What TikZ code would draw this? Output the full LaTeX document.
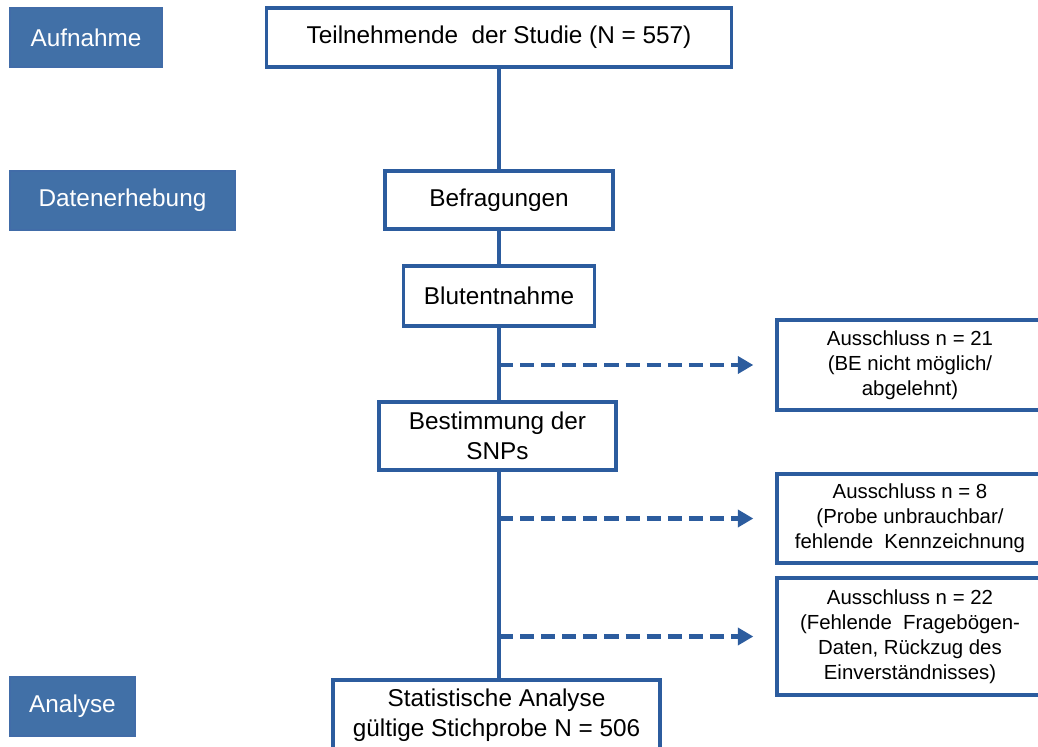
\documentclass[tikz,border=0pt]{standalone}
\usepackage{fontspec}
\setmainfont{Liberation Sans}
\usetikzlibrary{arrows.meta}

\definecolor{phasefill}{RGB}{65,112,167}
\definecolor{flowblue}{RGB}{44,92,158}

\tikzset{
    phase/.style={draw=flowblue!90!white, line width=0.8pt, fill=phasefill, text=white,
        inner sep=0pt, minimum height=1.475cm, font=\fontsize{17.3}{21}\selectfont},
    stepbox/.style={draw=flowblue, line width=2.3pt, fill=white, align=center,
        inner sep=0pt, font=\fontsize{17.3}{21}\selectfont},
    exclbox/.style={draw=flowblue, line width=2.3pt, fill=white, align=center,
        inner sep=0pt, minimum width=6.65cm, font=\fontsize{14.5}{17.7}\selectfont},
    trunk/.style={draw=flowblue, line width=3.1pt},
    excl arrow/.style={draw=flowblue, line width=3pt, dash pattern=on 10pt off 5pt,
        -{Triangle[length=11pt,width=12pt]}}
}

\begin{document}
\begin{tikzpicture}[x=0.025cm, y=-0.025cm]
    \useasboundingbox (0,0) rectangle (1038,747);

    % Phases on the left
    \node[phase, minimum width=3.8cm] (aufn) at (86,37.5) {Aufnahme};
    \node[phase, minimum width=5.625cm] (daten) at (122.5,200.5) {Datenerhebung};
    \node[phase, minimum width=3.125cm] (anal) at (72.5,706.5) {Analyse};

    % Main flow
    \node[stepbox, minimum width=11.625cm, minimum height=1.475cm] (teil) at (499,37.5)
        {Teilnehmende\ \ der Studie (N = 557)};
    \node[stepbox, minimum width=5.7cm, minimum height=1.45cm] (befr) at (499,200) {Befragungen};
    \node[stepbox, minimum width=4.775cm, minimum height=1.5cm] (blut) at (499,296) {Blutentnahme};
    \node[stepbox, minimum width=5.925cm, minimum height=1.7cm] (best) at (497.5,436)
        {Bestimmung der\\SNPs};
    \node[stepbox, minimum width=8.175cm, minimum height=1.75cm] (stat) at (496.5,715)
        {Statistische Analyse\\gültige Stichprobe N = 506};

    \draw[trunk] (teil.south) -- (befr.north);
    \draw[trunk] (befr.south) -- (blut.north);
    \draw[trunk] (blut.south) -- (blut.south |- best.north);
    \draw[trunk] (blut.south |- best.south) -- (blut.south |- stat.north);

    % Exclusions
    \node[exclbox, minimum height=2.25cm] (aus1) at (910,365)
        {Ausschluss n = 21\\(BE nicht möglich/\\abgelehnt)};
    \node[exclbox, minimum height=2.225cm] (aus2) at (910,518.5)
        {Ausschluss n = 8\\(Probe unbrauchbar/\\fehlende\ \ Kennzeichnung};
    \node[exclbox, minimum height=2.925cm] (aus3) at (910,636.5)
        {Ausschluss n = 22\\(Fehlende\ \ Fragebögen-\\Daten, Rückzug des\\Einverständnisses)};

    \coordinate (end1) at ([xshift=-0.55cm]aus1.west);
    \coordinate (end2) at ([xshift=-0.55cm]aus2.west);
    \coordinate (end3) at ([xshift=-0.55cm]aus3.west);

    \draw[excl arrow] (blut.south |- aus1.west) -- (end1);
    \draw[excl arrow] (blut.south |- aus2.west) -- (end2);
    \draw[excl arrow] (blut.south |- aus3.west) -- (end3);
\end{tikzpicture}
\end{document}
